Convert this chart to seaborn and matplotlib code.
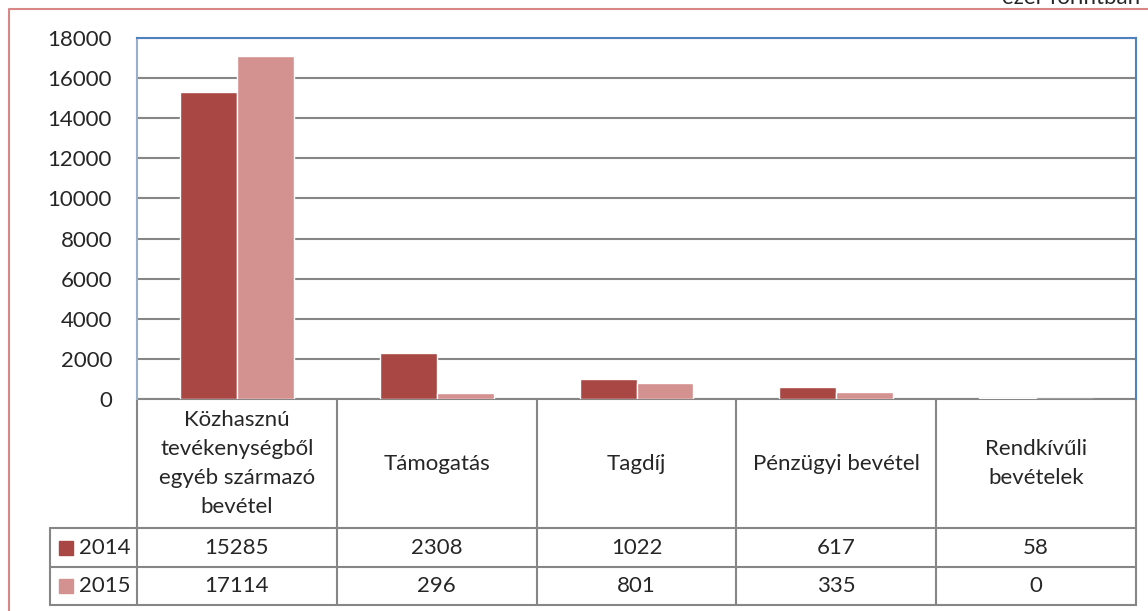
import pandas as pd
import matplotlib.pyplot as plt
import seaborn as sns
from matplotlib.lines import Line2D
from matplotlib.patches import Rectangle

# adatok
categories = ['Közhasznú\ntevékenységből\negyéb származó\nbevétel', 'Támogatás', 'Tagdíj',
              'Pénzügyi bevétel', 'Rendkívűli\nbevételek']
years = ['2014', '2015']
values_2014 = [15285, 2308, 1022, 617, 58]
values_2015 = [17114, 296, 801, 335, 0]
colors = ['#A94744', '#D39190']

df = pd.DataFrame({
    'kategoria': categories * 2,
    'ev': [years[0]] * 5 + [years[1]] * 5,
    'ertek': values_2014 + values_2015,
})

sns.set_style('white')
plt.rcParams['font.family'] = ['Lato', 'DejaVu Sans']
FS = 16
W, H = 1148, 611

fig = plt.figure(figsize=(W / 100, H / 100), dpi=100)
ax = fig.add_axes([137 / W, (H - 399) / H, 999 / W, 361 / H])

sns.barplot(data=df, x='kategoria', y='ertek', hue='ev', palette=colors, width=0.57,
            saturation=1, ax=ax, legend=False, zorder=3)

ax.set_ylim(0, 18000)
ax.set_xlim(-0.5, 4.5)
ax.set_yticks(range(0, 18001, 2000))
ax.tick_params(axis='y', labelsize=FS, length=0, pad=18)
ax.set_xticks([])
ax.set_xlabel('')
ax.set_ylabel('')
ax.grid(axis='y', color='#868686', linewidth=1.5, zorder=0)
ax.set_axisbelow(True)
for s in ['top', 'right']:
    ax.spines[s].set_color('#4F81BD')
    ax.spines[s].set_linewidth(1.5)
ax.spines['left'].set_color('#9AAFCB')
ax.spines['left'].set_linewidth(1.5)
ax.spines['bottom'].set_visible(False)

# táblázat az x tengely alatt
grid_c = '#868686'
y_top = 0
y_head = -(528 - 399) / 361
y_r1 = -(567 - 399) / 361
y_r2 = -(605 - 399) / 361
x_lab = -(137 - 50) / 999
tr = ax.transAxes
lk = dict(color=grid_c, linewidth=1.5, transform=tr, clip_on=False)

ax.add_line(Line2D([0, 1], [y_top, y_top], **lk))
for y in [y_head, y_r1, y_r2]:
    ax.add_line(Line2D([x_lab, 1], [y, y], **lk))
for i in range(6):
    xf = i / 5
    ax.add_line(Line2D([xf, xf], [y_top, y_r2], **lk))
ax.add_line(Line2D([x_lab, x_lab], [y_head, y_r2], **lk))

for i, cat in enumerate(categories):
    xc = (i + 0.5) / 5
    ax.text(xc, (y_top + y_head) / 2, cat, ha='center', va='center', fontsize=FS,
            linespacing=1.55, transform=tr)
    ax.text(xc, (y_head + y_r1) / 2, str(values_2014[i]), ha='center', va='center',
            fontsize=FS, transform=tr)
    ax.text(xc, (y_r1 + y_r2) / 2, str(values_2015[i]), ha='center', va='center',
            fontsize=FS, transform=tr)

for yr, c, (ya, yb) in zip(years, colors, [(y_head, y_r1), (y_r1, y_r2)]):
    ym = (ya + yb) / 2
    sq_w = 14 / 999
    sq_h = 14 / 361
    ax.add_patch(Rectangle((-(137 - 59) / 999, ym - sq_h / 2), sq_w, sq_h, color=c,
                           transform=tr, clip_on=False))
    ax.text(-(137 - 79) / 999, ym, yr, ha='left', va='center', fontsize=FS, transform=tr)

# külső keret és mértékegység (a referencián is levágva a felső szélen)
red = '#D98686'
fig.add_artist(Line2D([9 / W, 9 / W, 1], [0, 1 - 9 / H, 1 - 9 / H], color=red,
                      linewidth=1.5, transform=fig.transFigure))
fig.text(1140 / W, 1 - 4 / H, 'ezer forintban', ha='right', va='baseline', fontsize=FS)

fig.savefig('out.png', dpi=100)
